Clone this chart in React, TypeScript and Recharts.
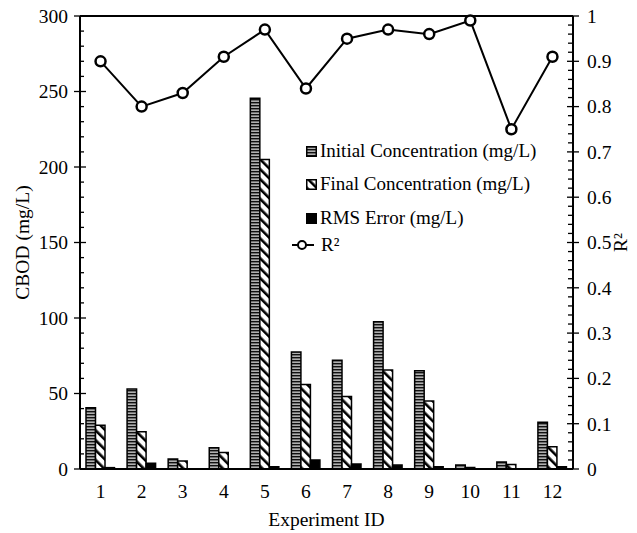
import React from 'react';
import { ComposedChart, Bar, Line, XAxis, YAxis, Legend, ReferenceLine } from 'recharts';

const experiments = ['1', '2', '3', '4', '5', '6', '7', '8', '9', '10', '11', '12'];
const initialConc = [40.5, 53, 6.6, 14, 245.5, 77.5, 72, 97.5, 65, 2.6, 4.6, 31];
const finalConc = [29, 24.7, 5.3, 11, 205, 56, 48, 65.5, 45, 1, 3, 14.8];
const rmsError = [0.9, 3.8, 0, 0, 1.5, 6, 3.3, 2.6, 1.5, 0, 0, 1.5];
const rSquared = [0.9, 0.8, 0.83, 0.91, 0.97, 0.84, 0.95, 0.97, 0.96, 0.99, 0.75, 0.91];

const seriesNames = ['Initial Concentration (mg/L)', 'Final Concentration (mg/L)', 'RMS Error (mg/L)', 'R²'];
const leftTicks = [0, 10, 20, 30, 40, 50, 60, 70, 80, 90, 100, 110, 120, 130, 140, 150, 160, 170, 180, 190, 200, 210, 220, 230, 240, 250, 260, 270, 280, 290, 300];
const leftMajor = [0, 50, 100, 150, 200, 250, 300];
const rightMajorLabels = ['0', '0.1', '0.2', '0.3', '0.4', '0.5', '0.6', '0.7', '0.8', '0.9', '1'];
const rightTicks = Array.from({ length: 51 }, (_, i) => i / 50);

const data = experiments.map((e, i) => ({
  id: e,
  initial: initialConc[i],
  final: finalConc[i],
  rms: rmsError[i],
  r2: rSquared[i],
}));

const FONT = "'Times New Roman', 'Liberation Serif', 'DejaVu Serif', serif";
const LEFT_MARGIN = 12;
const RIGHT_MARGIN = 14;
const txt = { fontFamily: FONT, fontSize: 19.5, fill: '#000' };

const LeftTick = (props: any) => {
  const { x, y, payload } = props;
  const axisX = x + LEFT_MARGIN;
  const major = leftMajor.includes(payload.value);
  return (
    <g>
      <line x1={major ? axisX - 6 : axisX} x2={major ? axisX + 6 : axisX + 4} y1={y} y2={y} stroke="#000" strokeWidth={1.3} />
      {major && (
        <text x={x} y={y} dy="0.35em" textAnchor="end" style={txt}>
          {payload.value}
        </text>
      )}
    </g>
  );
};

const RightTick = (props: any) => {
  const { x, y, payload } = props;
  const axisX = x - RIGHT_MARGIN;
  const idx = Math.round(payload.value * 10);
  const major = Math.abs(payload.value * 10 - idx) < 1e-6;
  return (
    <g>
      <line x1={major ? axisX - 6 : axisX - 5} x2={major ? axisX + 6 : axisX} y1={y} y2={y} stroke="#000" strokeWidth={1.3} />
      {major && (
        <text x={x} y={y} dy="0.35em" textAnchor="start" style={txt}>
          {rightMajorLabels[idx]}
        </text>
      )}
    </g>
  );
};

const XTick = (props: any) => {
  const { x, y, payload } = props;
  return (
    <text x={x} y={y} dy="0.72em" textAnchor="middle" style={txt}>
      {payload.value}
    </text>
  );
};

const LegendContent = () => {
  const rows = [
    { key: 'initial', top: 151 },
    { key: 'final', top: 184 },
    { key: 'rms', top: 218 },
    { key: 'r2', top: 245 },
  ];
  return (
    <div style={{ position: 'relative', width: 637, height: 533 }}>
      {rows.map((r, i) => (
        <div
          key={r.key}
          style={{
            position: 'absolute',
            left: r.key === 'r2' ? 291 : 306,
            top: r.top - 12,
            height: 24,
            display: 'flex',
            alignItems: 'center',
            fontFamily: FONT,
            fontSize: 19,
            color: '#000',
            whiteSpace: 'nowrap',
          }}
        >
          {r.key === 'r2' ? (
            <svg width={24} height={12} style={{ marginRight: 6 }}>
              <line x1={1} x2={23} y1={6} y2={6} stroke="#000" strokeWidth={2} />
              <circle cx={11} cy={6} r={4} fill="#fff" stroke="#000" strokeWidth={2} />
            </svg>
          ) : (
            <svg width={11} height={11} style={{ marginRight: 3 }}>
              <rect
                x={0.75}
                y={0.75}
                width={9.5}
                height={9.5}
                fill={r.key === 'initial' ? 'url(#hstripe)' : r.key === 'final' ? 'url(#dstripe)' : '#000'}
                stroke="#000"
                strokeWidth={1.5}
              />
            </svg>
          )}
          <span>{seriesNames[i]}</span>
        </div>
      ))}
    </div>
  );
};

const AxisTitle = (props: any) => {
  const { viewBox, value, dxOff, vertical } = props;
  if (!viewBox) return null;
  if (vertical) {
    const cx = viewBox.x + dxOff;
    const cy = viewBox.y + viewBox.height / 2;
    return (
      <text x={cx} y={cy} transform={`rotate(-90, ${cx}, ${cy})`} textAnchor="middle" dy="0.35em" style={txt}>
        {value}
      </text>
    );
  }
  return (
    <text x={viewBox.x + viewBox.width / 2} y={viewBox.y + dxOff} textAnchor="middle" style={txt}>
      {value}
    </text>
  );
};

export default function App() {
  return (
    <div style={{ position: 'absolute', left: 0, top: 0, width: 637, height: 533, background: '#fff' }}>
      <ComposedChart width={637} height={533} data={data} margin={{ top: 16, right: 0, bottom: 0, left: 0 }} barGap={0}>
        <defs>
          <pattern id="hstripe" patternUnits="userSpaceOnUse" width={6} height={3}>
            <rect x={0} y={0} width={6} height={3} fill="#b0b0b0" />
            <rect x={0} y={0} width={6} height={1.4} fill="#111" />
          </pattern>
          <pattern id="dstripe" patternUnits="userSpaceOnUse" width={7} height={7} patternTransform="rotate(-45)">
            <rect x={0} y={0} width={7} height={7} fill="#fff" />
            <rect x={0} y={0} width={2.6} height={7} fill="#000" />
          </pattern>
        </defs>
        <XAxis
          dataKey="id"
          height={64}
          tickLine={false}
          tickSize={0}
          tickMargin={15}
          axisLine={{ stroke: '#000', strokeWidth: 2 }}
          tick={<XTick />}
          interval={0}
          label={<AxisTitle value="Experiment ID" dxOff={57} />}
        />
        <YAxis
          yAxisId="left"
          orientation="left"
          width={80}
          domain={[0, 300]}
          ticks={leftTicks}
          interval={0}
          tickLine={false}
          tickSize={0}
          tickMargin={LEFT_MARGIN}
          axisLine={{ stroke: '#000', strokeWidth: 2 }}
          tick={<LeftTick />}
          label={<AxisTitle value="CBOD (mg/L)" dxOff={22} vertical />}
        />
        <YAxis
          yAxisId="right"
          orientation="right"
          width={64}
          domain={[0, 1]}
          ticks={rightTicks}
          interval={0}
          tickLine={false}
          tickSize={0}
          tickMargin={RIGHT_MARGIN}
          axisLine={{ stroke: '#000', strokeWidth: 2 }}
          tick={<RightTick />}
          label={<AxisTitle value="R²" dxOff={47} vertical />}
        />
        <ReferenceLine yAxisId="left" y={300} stroke="#000" strokeWidth={2} />
        <Bar yAxisId="left" dataKey="initial" name={seriesNames[0]} fill="url(#hstripe)" stroke="#000" strokeWidth={1.5} barSize={9.5} isAnimationActive={false} />
        <Bar yAxisId="left" dataKey="final" name={seriesNames[1]} fill="url(#dstripe)" stroke="#000" strokeWidth={1.5} barSize={9.5} isAnimationActive={false} />
        <Bar yAxisId="left" dataKey="rms" name={seriesNames[2]} fill="#000" stroke="#000" strokeWidth={1.5} barSize={9.5} isAnimationActive={false} />
        <Line
          yAxisId="right"
          dataKey="r2"
          name={seriesNames[3]}
          stroke="#000"
          strokeWidth={2}
          dot={{ r: 5, fill: '#fff', stroke: '#000', strokeWidth: 2.5 }}
          isAnimationActive={false}
        />
        <Legend
          layout="vertical"
          align="center"
          verticalAlign="middle"
          content={<LegendContent />}
          wrapperStyle={{ left: 0, top: 0, width: 637, height: 533, pointerEvents: 'none' }}
        />
      </ComposedChart>
    </div>
  );
}
